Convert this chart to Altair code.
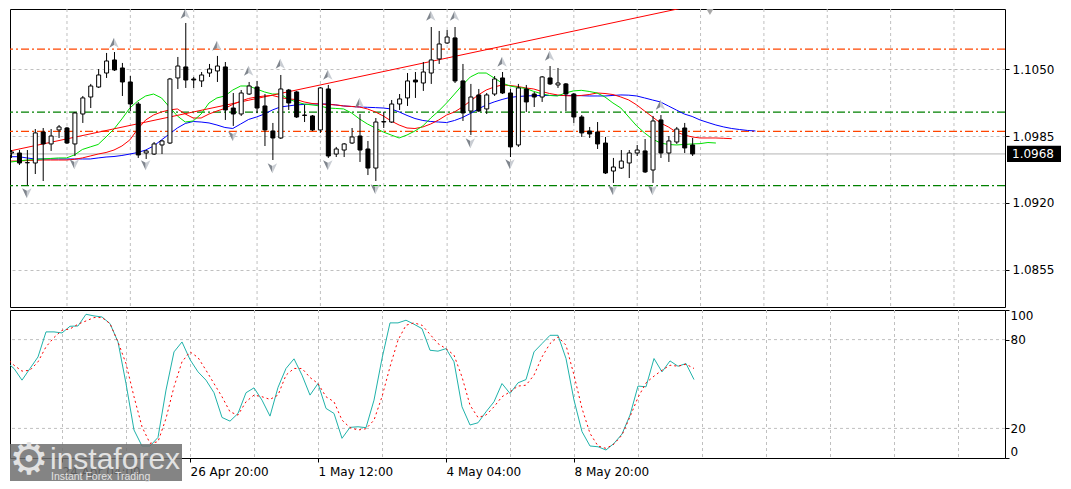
import altair as alt
import pandas as pd

# ---------------- data ----------------
bars = list(range(87))
opens = [1.09685, 1.09685, 1.09590, 1.09588, 1.09889, 1.09773, 1.09909, 1.09928, 1.09773, 1.10064,
         1.10229, 1.10326, 1.10462, 1.10589, 1.10511, 1.10375, 1.10161, 1.09685, 1.09675, 1.09763,
         1.09782, 1.10414, 1.10521, 1.10404, 1.10385, 1.10462, 1.10482, 1.10521, 1.10122, 1.10064,
         1.10258, 1.10326, 1.10142, 1.09899, 1.09831, 1.10297, 1.10278, 1.10054, 1.10045, 1.09909,
         1.10307, 1.09675, 1.09714, 1.09782, 1.09850, 1.09724, 1.09539, 1.09986, 1.09986, 1.10161,
         1.10220, 1.10394, 1.10365, 1.10462, 1.10599, 1.10754, 1.10803, 1.10385, 1.10093, 1.10249,
         1.10113, 1.10258, 1.10414, 1.10268, 1.09763, 1.10307, 1.10258, 1.10229, 1.10414, 1.10346,
         1.10356, 1.10258, 1.10035, 1.09899, 1.09889, 1.09782, 1.09510, 1.09539, 1.09588, 1.09685,
         1.09705, 1.09520, 1.10006, 1.09685, 1.09792, 1.09928, 1.09763]
highs = [1.09714, 1.09714, 1.09714, 1.09918, 1.09928, 1.09918, 1.09957, 1.09938, 1.10084, 1.10239,
         1.10356, 1.10501, 1.10657, 1.10666, 1.10560, 1.10433, 1.10181, 1.09714, 1.09792, 1.09812,
         1.10414, 1.10618, 1.10948, 1.10424, 1.10472, 1.10550, 1.10628, 1.10569, 1.10268, 1.10297,
         1.10375, 1.10385, 1.10258, 1.09977, 1.10443, 1.10307, 1.10288, 1.10152, 1.10054, 1.10326,
         1.10346, 1.09744, 1.09782, 1.09928, 1.10064, 1.09802, 1.10025, 1.10084, 1.10200, 1.10258,
         1.10462, 1.10472, 1.10569, 1.10909, 1.10871, 1.10880, 1.10909, 1.10550, 1.10356, 1.10307,
         1.10268, 1.10433, 1.10472, 1.10307, 1.10356, 1.10346, 1.10278, 1.10433, 1.10530, 1.10511,
         1.10365, 1.10268, 1.10054, 1.09938, 1.09986, 1.09841, 1.09637, 1.09714, 1.09714, 1.09763,
         1.09821, 1.10045, 1.10054, 1.09850, 1.09938, 1.09977, 1.09831]
lows = [1.09637, 1.09569, 1.09374, 1.09481, 1.09413, 1.09705, 1.09831, 1.09773, 1.09656, 1.09977,
        1.10122, 1.10317, 1.10414, 1.10482, 1.10239, 1.10093, 1.09637, 1.09627, 1.09666, 1.09675,
        1.09773, 1.10307, 1.10317, 1.10317, 1.10326, 1.10424, 1.10375, 1.10006, 1.09948, 1.10045,
        1.10249, 1.10074, 1.09753, 1.09617, 1.09821, 1.10103, 1.10025, 1.09986, 1.09899, 1.09880,
        1.09637, 1.09646, 1.09646, 1.09773, 1.09598, 1.09471, 1.09413, 1.09928, 1.09977, 1.10103,
        1.10142, 1.10220, 1.10288, 1.10356, 1.10550, 1.10744, 1.10365, 1.09996, 1.09860, 1.10084,
        1.10064, 1.10239, 1.10258, 1.09646, 1.09744, 1.10084, 1.10132, 1.10181, 1.10346, 1.10317,
        1.10093, 1.09977, 1.09841, 1.09831, 1.09724, 1.09481, 1.09394, 1.09530, 1.09442, 1.09656,
        1.09491, 1.09394, 1.09637, 1.09598, 1.09773, 1.09685, 1.09656]
closes = [1.09695, 1.09588, 1.09592, 1.09880, 1.09773, 1.09850, 1.09938, 1.09782, 1.10074, 1.10220,
          1.10336, 1.10443, 1.10579, 1.10492, 1.10375, 1.10161, 1.09666, 1.09705, 1.09773, 1.09802,
          1.10404, 1.10530, 1.10394, 1.10394, 1.10443, 1.10501, 1.10530, 1.10103, 1.10064, 1.10268,
          1.10336, 1.10122, 1.09909, 1.09831, 1.10307, 1.10171, 1.10035, 1.10050, 1.09909, 1.10317,
          1.09656, 1.09724, 1.09773, 1.09841, 1.09714, 1.09539, 1.09986, 1.09991, 1.10161, 1.10210,
          1.10385, 1.10375, 1.10472, 1.10589, 1.10744, 1.10812, 1.10385, 1.10074, 1.10229, 1.10093,
          1.10249, 1.10404, 1.10268, 1.09744, 1.10317, 1.10181, 1.10229, 1.10424, 1.10356, 1.10365,
          1.10258, 1.10035, 1.09880, 1.09870, 1.09773, 1.09491, 1.09549, 1.09607, 1.09685, 1.09714,
          1.09501, 1.09996, 1.09685, 1.09802, 1.09918, 1.09734, 1.09676]

# Alligator-style moving averages (shifted forward past the last bar)
green_ma = [1.09598, 1.09607, 1.09617, 1.09622, 1.09627, 1.09632, 1.09637, 1.09637, 1.09666, 1.09719,
            1.09744, 1.09768, 1.09841, 1.09918, 1.10016, 1.10122, 1.10190, 1.10239, 1.10258, 1.10220,
            1.10132, 1.10045, 1.09986, 1.09996, 1.10064, 1.10171, 1.10220, 1.10239, 1.10297, 1.10336,
            1.10336, 1.10307, 1.10278, 1.10258, 1.10258, 1.10210, 1.10181, 1.10161, 1.10152, 1.10142,
            1.10122, 1.10118, 1.10113, 1.10074, 1.10016, 1.09967, 1.09928, 1.09889, 1.09860, 1.09831,
            1.09860, 1.09899, 1.09948, 1.10025, 1.10093, 1.10171, 1.10258, 1.10346, 1.10424, 1.10462,
            1.10462, 1.10414, 1.10365, 1.10336, 1.10322, 1.10312, 1.10283, 1.10261, 1.10244, 1.10239,
            1.10268, 1.10288, 1.10294, 1.10283, 1.10268, 1.10229, 1.10171, 1.10122, 1.10035, 1.09948,
            1.09880, 1.09821, 1.09782, 1.09768, 1.09763, 1.09768, 1.09773, 1.09776, 1.09787, 1.09782]
red_ma = [1.09607, 1.09607, 1.09612, 1.09614, 1.09617, 1.09617, 1.09617, 1.09617, 1.09624, 1.09637,
          1.09656, 1.09675, 1.09690, 1.09714, 1.09753, 1.09812, 1.09918, 1.10006, 1.10054, 1.10084,
          1.10103, 1.10113, 1.10064, 1.10025, 1.10025, 1.10064, 1.10093, 1.10118, 1.10157, 1.10190,
          1.10215, 1.10229, 1.10239, 1.10244, 1.10225, 1.10210, 1.10205, 1.10181, 1.10166, 1.10161,
          1.10157, 1.10152, 1.10142, 1.10137, 1.10132, 1.10113, 1.10084, 1.10045, 1.09996, 1.09957,
          1.09928, 1.09923, 1.09938, 1.09967, 1.10006, 1.10054, 1.10084, 1.10132, 1.10190, 1.10249,
          1.10297, 1.10326, 1.10346, 1.10341, 1.10331, 1.10317, 1.10307, 1.10283, 1.10263, 1.10249,
          1.10242, 1.10239, 1.10244, 1.10253, 1.10268, 1.10263, 1.10253, 1.10229, 1.10200, 1.10152,
          1.10093, 1.10035, 1.09977, 1.09938, 1.09889, 1.09860, 1.09841, 1.09831, 1.09831, 1.09831,
          1.09828, 1.09824]
blue_ma = [1.09649, 1.09649, 1.09637, 1.09627, 1.09627, 1.09627, 1.09627, 1.09627, 1.09627, 1.09627,
           1.09627, 1.09637, 1.09646, 1.09651, 1.09661, 1.09675, 1.09690, 1.09714, 1.09753, 1.09812,
           1.09870, 1.09928, 1.09972, 1.09991, 1.09986, 1.09977, 1.09957, 1.09933, 1.09923, 1.09967,
           1.10011, 1.10035, 1.10064, 1.10103, 1.10132, 1.10142, 1.10152, 1.10157, 1.10161, 1.10161,
           1.10161, 1.10152, 1.10142, 1.10137, 1.10132, 1.10129, 1.10126, 1.10122, 1.10113, 1.10084,
           1.10050, 1.10020, 1.10001, 1.09991, 1.09986, 1.09981, 1.10001, 1.10030, 1.10069, 1.10113,
           1.10152, 1.10181, 1.10205, 1.10225, 1.10234, 1.10239, 1.10242, 1.10244, 1.10244, 1.10244,
           1.10244, 1.10244, 1.10242, 1.10239, 1.10239, 1.10239, 1.10244, 1.10249, 1.10247, 1.10239,
           1.10220, 1.10200, 1.10181, 1.10142, 1.10103, 1.10064, 1.10040, 1.10006, 1.09981, 1.09957,
           1.09938, 1.09923, 1.09913, 1.09904, 1.09899]

# fractal arrows
up_bars = [13, 22, 26, 30, 34, 40, 44, 53, 56, 62, 68, 82]
up_prices = [1.10754, 1.11036, 1.10725, 1.10482, 1.10550, 1.10443, 1.10171, 1.11016, 1.11016, 1.10569, 1.10628, 1.10152]
down_bars = [2, 8, 17, 28, 33, 40, 46, 58, 63, 76, 81]
down_prices = [1.09297, 1.09578, 1.09569, 1.09850, 1.09539, 1.09569, 1.09335, 1.09782, 1.09578, 1.09326, 1.09326]

# trend line and horizontal levels
trend_bars = [0, 88]
trend_prices = [1.09707, 1.11147]
orange_levels = [1.10694, 1.09896]
green_levels = [1.10083, 1.09369]
bid_price = 1.09676
chart_shift_bar = [88.25]

# stochastic
stoch_main = [65, 60.5, 52.6, 60.5, 68.3, 85.2, 85.2, 84.5, 89, 89.2,
              97.1, 96, 95.3, 90.8, 78.4, 50.3, 18.9, 8.1, 8.1, 13.9,
              45.9, 71.7, 78.4, 66.5, 58.2, 52.6, 44.1, 27.4, 24.9, 30.1,
              44.1, 47.4, 39.1, 28.3, 47.7, 60.5, 67, 56, 42.5, 50.3,
              33.5, 30.1, 13.3, 20.7, 21.1, 20.5, 39.1, 67.2, 91.3, 91.3,
              93.1, 90.4, 87.4, 72.8, 72.2, 73.9, 65, 34.6, 22.3, 23.8,
              31.2, 38, 50.3, 43.6, 50.8, 53, 71.7, 77.3, 82.9, 82.9,
              67.2, 39.1, 17.8, 8.1, 7.6, 5.4, 9.9, 16.2, 29, 48.6,
              48.1, 67.2, 58.2, 65.6, 62, 63.8, 53]
stoch_signal = [67.9, 62.7, 58.7, 59.3, 65, 75.1, 81.4, 86.3, 87.2, 90.4,
                92.6, 94.9, 94.9, 90.8, 78.4, 63.8, 41.4, 21.1, 9.9, 11,
                26.7, 48.1, 65, 71.7, 67.9, 59.3, 50.3, 41.4, 31.2, 29,
                38, 42.5, 41.4, 39.6, 42.5, 56, 60.5, 60.5, 54.4, 50.3,
                41.4, 38, 25.6, 20.5, 18.9, 19.8, 25.6, 41.4, 61.6, 79.6,
                89.7, 91.3, 89.7, 83.6, 77.3, 73.9, 69.5, 54.8, 35.7, 27.4,
                29, 34.6, 41.4, 44.7, 48.6, 49.2, 56, 68.3, 77.3, 81.8,
                76.2, 56, 33.5, 16.6, 8.1, 6.5, 9.4, 15.5, 27.9, 40.9,
                50.8, 55.3, 59.3, 62.7, 62, 63.4, 60.5]
stoch_levels = [20, 80]

# axes
price_ticks = [1.1050, 1.0985, 1.0920, 1.0855]
stoch_ticks = [0, 20, 80, 100]
grid_bars = [7, 15, 23, 31, 39, 47, 55, 63, 71, 79, 87, 95, 103, 111, 119]
label_bars = [7, 23, 39, 55, 71]
label_texts = ["24 Apr 04:00", "26 Apr 20:00", "1 May 12:00", "4 May 04:00", "8 May 20:00"]

# ---------------- tables ----------------
candles = pd.DataFrame({"bar": bars, "open": opens, "high": highs, "low": lows, "close": closes})
candles["fill"] = ["white" if c >= o else "black" for o, c in zip(opens, closes)]
green_df = pd.DataFrame({"bar": list(range(len(green_ma))), "v": green_ma})
red_df = pd.DataFrame({"bar": list(range(len(red_ma))), "v": red_ma})
blue_df = pd.DataFrame({"bar": list(range(len(blue_ma))), "v": blue_ma})
up_df = pd.DataFrame({"bar": up_bars, "p": up_prices})
dn_df = pd.DataFrame({"bar": down_bars, "p": down_prices})
trend_df = pd.DataFrame({"bar": trend_bars, "p": trend_prices})
levels_df = pd.DataFrame({"p": orange_levels + green_levels,
                          "c": ["#ff4500"] * len(orange_levels) + ["#008000"] * len(green_levels)})
bid_df = pd.DataFrame({"p": [bid_price]})
shift_df = pd.DataFrame({"bar": chart_shift_bar})
grid_df = pd.DataFrame({"bar": grid_bars})
stoch_df = pd.DataFrame({"bar": bars, "main": stoch_main, "signal": stoch_signal})
slev_df = pd.DataFrame({"v": stoch_levels})
logo_df = pd.DataFrame({"a": [0]})

FONT = "DejaVu Sans"
W = 995
xs = alt.Scale(domain=[0.5, 124.875], nice=False, zero=False)
ys = alt.Scale(domain=[1.08189, 1.11084], nice=False, zero=False)
ss = alt.Scale(domain=[0, 100], nice=False, zero=False)

price_axis = alt.Axis(orient="right", values=price_ticks, format=".4f", grid=True,
                      gridColor="#c0c0c0", gridDash=[3, 3], domain=False, tickSize=4,
                      tickColor="black", labelColor="black", labelFont=FONT, labelFontSize=12,
                      labelPadding=3, title=None, labelOverlap=False)
stoch_axis = alt.Axis(orient="right", values=stoch_ticks, format="d", grid=False, domain=False,
                      tickSize=4, tickColor="black", labelColor="black", labelFont=FONT,
                      labelFontSize=12, labelPadding=1, title=None, labelFlush=True,
                      labelOverlap=False)
label_expr = " : ".join(f"datum.value == {b} ? '{t}'" for b, t in zip(label_bars, label_texts)) + " : ''"
time_axis = alt.Axis(values=label_bars, labelExpr=label_expr, grid=False, domain=False,
                     tickSize=4, tickColor="black", labelColor="black", labelFont=FONT,
                     labelFontSize=12, labelAlign="left", labelPadding=4, title=None,
                     labelOverlap=False, labelFlush=False, labelBound=False)

X = lambda f="bar": alt.X(f"{f}:Q", scale=xs, axis=None)
Y = lambda f: alt.Y(f"{f}:Q", scale=ys, axis=price_axis)

GRID = dict(color="#c0c0c0", strokeDash=[3, 3], strokeWidth=1)

vgrid = alt.Chart(grid_df).mark_rule(xOffset=0.5, **GRID).encode(x=X())
levels = alt.Chart(levels_df).mark_rule(strokeDash=[8, 3, 2, 3], strokeWidth=1.3).encode(
    y=Y("p"), color=alt.Color("c:N", scale=None))
bid = alt.Chart(bid_df).mark_rule(color="#b4b4b4", strokeWidth=1).encode(y=Y("p"))
g_line = alt.Chart(green_df).mark_line(color="#00e000", strokeWidth=1, clip=True).encode(x=X(), y=Y("v"))
r_line = alt.Chart(red_df).mark_line(color="#ff0000", strokeWidth=1, clip=True).encode(x=X(), y=Y("v"))
b_line = alt.Chart(blue_df).mark_line(color="#0000ff", strokeWidth=1, clip=True).encode(x=X(), y=Y("v"))
trend = alt.Chart(trend_df).mark_line(color="#ff0000", strokeWidth=1, clip=True).encode(x=X(), y=Y("p"))
wicks = alt.Chart(candles).mark_rule(color="black", strokeWidth=1, xOffset=0.5, clip=True).encode(
    x=X(), y=Y("low"), y2="high")
bodies = alt.Chart(candles).mark_bar(size=4, stroke="black", strokeWidth=1, xOffset=0.5, clip=True).encode(
    x=X(), y=Y("open"), y2="close", fill=alt.Fill("fill:N", scale=None))

UP_L = "M0,-1L0,0.4L-0.9,0.9Z"
UP_R = "M0,-1L0.9,0.9L0,0.4Z"
DN_L = "M0,1L0,-0.4L-0.9,-0.9Z"
DN_R = "M0,1L0.9,-0.9L0,-0.4Z"
def arrow(df, path, col):
    return alt.Chart(df).mark_point(shape=path, filled=True, size=110, color=col, opacity=1,
                                    strokeWidth=0, clip=True).encode(x=X(), y=Y("p"))
arrows = [arrow(up_df, UP_L, "#7f858d"), arrow(up_df, UP_R, "#c9cdd3"),
          arrow(dn_df, DN_L, "#7f858d"), arrow(dn_df, DN_R, "#c9cdd3")]
shift = alt.Chart(shift_df).mark_point(shape="triangle-down", filled=True, size=90, color="#a8a8a8",
                                       opacity=1, clip=True).encode(x=X(), y=alt.value(2))

TAG = "M-1,-0.3L1,-0.3L1,0.3L-1,0.3Z"
tag_box = alt.Chart(bid_df).mark_point(shape=TAG, filled=True, size=2916, color="black", opacity=1,
                                       strokeWidth=0).encode(x=alt.value(1024), y=Y("p"))
tag_text = alt.Chart(bid_df).mark_text(align="left", baseline="middle", color="white", font=FONT,
                                       fontSize=12).encode(
    x=alt.value(1002), y=Y("p"), text=alt.Text("p:Q", format=".4f"))

main = alt.layer(vgrid, levels, bid, b_line, r_line, g_line, trend, wicks, bodies, *arrows, shift,
                 tag_box, tag_text).properties(width=W, height=298)

# ---------------- stochastic panel ----------------
XS = alt.X("bar:Q", scale=xs, axis=time_axis)
sgrid = alt.Chart(grid_df).mark_rule(xOffset=0.5, **GRID).encode(x=XS)
slev = alt.Chart(slev_df).mark_rule(**GRID).encode(y=alt.Y("v:Q", scale=ss, axis=stoch_axis))
s_main = alt.Chart(stoch_df).mark_line(color="#20b2aa", strokeWidth=1, clip=True).encode(
    x=XS, y=alt.Y("main:Q", scale=ss, axis=stoch_axis))
s_sig = alt.Chart(stoch_df).mark_line(color="#ff0000", strokeWidth=1, strokeDash=[2, 3], clip=True).encode(
    x=XS, y=alt.Y("signal:Q", scale=ss, axis=stoch_axis))

logo_box = alt.Chart(logo_df).mark_rect(color="#6f6f6f", opacity=0.85).encode(
    x=alt.value(0), x2=alt.value(172), y=alt.value(134), y2=alt.value(171))
logo_gear = alt.Chart(logo_df).mark_text(text="\u2699", font=FONT, fontSize=44, color="#e2e2e2",
                                         align="center", baseline="middle").encode(
    x=alt.value(19), y=alt.value(151))
logo_name = alt.Chart(logo_df).mark_text(text="instaforex", font="Liberation Sans", fontSize=30,
                                         color="#e2e2e2", align="left", baseline="alphabetic").encode(
    x=alt.value(40), y=alt.value(159))
logo_tag = alt.Chart(logo_df).mark_text(text="Instant Forex Trading", font="Liberation Sans",
                                        fontSize=10.5, color="#e2e2e2", align="left",
                                        baseline="alphabetic").encode(
    x=alt.value(41), y=alt.value(170))

stoch = alt.layer(sgrid, slev, s_main, s_sig, logo_box, logo_gear, logo_name, logo_tag).properties(
    width=W, height=148)

chart = alt.vconcat(main, stoch, spacing=0).properties(padding=0, background="white").configure_view(
    stroke="black", strokeWidth=1)

chart.save("out.html", embed_options={"renderer": "svg", "actions": False})
